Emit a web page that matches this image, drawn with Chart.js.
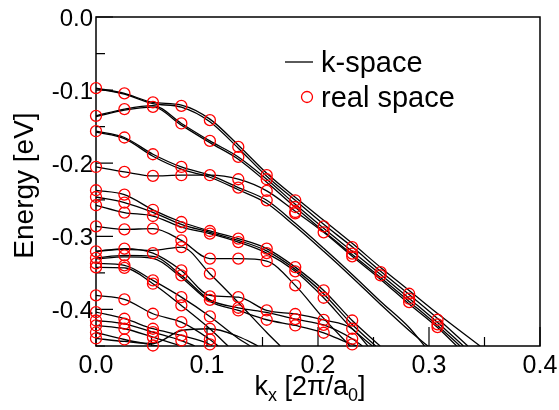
<!DOCTYPE html>
<html>
<head>
<meta charset="utf-8">
<script src="https://cdn.jsdelivr.net/npm/chart.js@4.4.0/dist/chart.umd.min.js"></script>
<style>
  html, body { margin: 0; padding: 0; background: #fff; }
</style>
</head>
<body>
<canvas id="bands" width="559" height="410"></canvas>
<script>
// k points where the real space calculation was done
const kPoints = [0, 0.0256, 0.0513, 0.0769, 0.1026, 0.1282, 0.1538, 0.1795, 0.2051, 0.2308, 0.2564, 0.2821, 0.3077];

// k-space bands: energy (eV) at kPoints, until the band leaves the plot
const kspaceBands = [
  [-0.0973, -0.1045, -0.1168, -0.1205, -0.1397, -0.1753, -0.2137, -0.2466, -0.2781, -0.3096, -0.3425, -0.3740, -0.4055],
  [-0.0979, -0.1055, -0.1185, -0.1233, -0.1432, -0.1795, -0.2178, -0.2507, -0.2836, -0.3144, -0.3479, -0.3795, -0.4123],
  [-0.1352, -0.1260, -0.1212, -0.1456, -0.1695, -0.1914, -0.2219, -0.2562, -0.2890, -0.3205, -0.3521, -0.3849, -0.4178],
  [-0.1363, -0.1274, -0.1233, -0.1479, -0.1719, -0.1945, -0.2260, -0.2603, -0.2932, -0.3247, -0.3562, -0.3890, -0.4219],
  [-0.2051, -0.2119, -0.2174, -0.2164, -0.2164, -0.2219, -0.2379, -0.2658, -0.2945, -0.3274, -0.3589, -0.3925, -0.4247],
  [-0.1562, -0.1648, -0.1877, -0.2051, -0.2164, -0.2333, -0.2507, -0.2822, -0.3164, -0.3521, -0.3890, -0.4247],
  [-0.1575, -0.1664, -0.1904, -0.2082, -0.2192, -0.2363, -0.2548, -0.2863, -0.3205, -0.3562, -0.3932, -0.4288],
  [-0.2370, -0.2429, -0.2637, -0.2804, -0.2927, -0.3032, -0.3168, -0.3421, -0.3740, -0.4151],
  [-0.2462, -0.2538, -0.2671, -0.2836, -0.2945, -0.3055, -0.3199, -0.3452, -0.3788, -0.4205],
  [-0.2575, -0.2675, -0.2722, -0.2873, -0.2963, -0.3078, -0.3229, -0.3479, -0.3840, -0.4264],
  [-0.2863, -0.2904, -0.2895, -0.3055, -0.3305, -0.3305, -0.3338, -0.3671, -0.4123],
  [-0.3205, -0.3178, -0.3192, -0.3147, -0.3511, -0.3904, -0.4315],
  [-0.3205, -0.3168, -0.3229, -0.3466, -0.3808, -0.3832, -0.4014, -0.4062, -0.4144, -0.4264],
  [-0.3295, -0.3260, -0.3274, -0.3534, -0.3870, -0.3977, -0.4041, -0.4133, -0.4212, -0.4401],
  [-0.3308, -0.3281, -0.3301, -0.3562, -0.3890, -0.4014, -0.4141, -0.4219, -0.4319, -0.4479],
  [-0.3370, -0.3397, -0.3603, -0.3832, -0.4096, -0.4397],
  [-0.3425, -0.3432, -0.3648, -0.3945, -0.4264],
  [-0.3808, -0.3863, -0.4059, -0.4174, -0.4411],
  [-0.4037, -0.4127, -0.4264, -0.4356, -0.4479],
  [-0.4151, -0.4196, -0.4311, -0.4425],
  [-0.4219, -0.4264, -0.4379],
  [-0.4315, -0.4411],
  [-0.4397, -0.4438, -0.4466, -0.4288, -0.4264, -0.4370]
];
// k where each band crosses the bottom of the plot
const bandExitK = [0.346, 0.335, 0.331, 0.328, 0.325, 0.296, 0.299, 0.256, 0.252, 0.249, 0.229, 0.166,
  0.245, 0.240, 0.236, 0.139, 0.119, 0.110, 0.1045, 0.089, 0.077, 0.055, 0.146];

// real space energies found at each of the kPoints
const realSpace = [
  [-0.0973, -0.1352, -0.1562, -0.2051, -0.2370, -0.2462, -0.2575, -0.2863, -0.3205, -0.3295, -0.3370, -0.3425, -0.3808, -0.4037, -0.4151, -0.4219, -0.4315, -0.4397],
  [-0.1045, -0.1260, -0.1648, -0.2119, -0.2429, -0.2538, -0.2675, -0.2904, -0.3168, -0.3260, -0.3397, -0.3432, -0.3863, -0.4127, -0.4196, -0.4264, -0.4411],
  [-0.1168, -0.1229, -0.1877, -0.2174, -0.2637, -0.2722, -0.2895, -0.3229, -0.3603, -0.3648, -0.4059, -0.4264, -0.4311, -0.4379, -0.4493],
  [-0.1215, -0.1456, -0.2051, -0.2164, -0.2804, -0.2873, -0.3055, -0.3147, -0.3466, -0.3534, -0.3832, -0.3945, -0.4174, -0.4356, -0.4425],
  [-0.1411, -0.1695, -0.2164, -0.2927, -0.2963, -0.3305, -0.3511, -0.3822, -0.3870, -0.4096, -0.4264, -0.4411, -0.4479],
  [-0.1777, -0.1914, -0.2219, -0.2333, -0.3032, -0.3078, -0.3305, -0.3832, -0.3977, -0.4014],
  [-0.2164, -0.2219, -0.2379, -0.2507, -0.3168, -0.3229, -0.3338, -0.4014, -0.4141],
  [-0.2507, -0.2599, -0.2667, -0.2685, -0.3421, -0.3479, -0.3671, -0.4062, -0.4133, -0.4219],
  [-0.2863, -0.2945, -0.3740, -0.3840, -0.4144, -0.4212, -0.4319],
  [-0.3147, -0.3237, -0.3274, -0.4151, -0.4264, -0.4401, -0.4479],
  [-0.3489, -0.3534],
  [-0.3785, -0.3853, -0.3900],
  [-0.4141, -0.4205, -0.4242]
];

const xTicks = [0, 0.1, 0.2, 0.3, 0.4];
const yTicks = [0, -0.1, -0.2, -0.3, -0.4];
const xMin = 0, xMax = 0.4, yMin = -0.45, yMax = 0;

const family = '"Liberation Sans", Arial, Helvetica, sans-serif';

const lineSets = kspaceBands.map((band, i) => ({
  label: 'k-space',
  data: band.map((e, n) => ({ x: kPoints[n], y: e })).concat([{ x: bandExitK[i], y: yMin }]),
  showLine: true,
  borderColor: '#000',
  borderWidth: 1.3,
  pointRadius: 0,
  cubicInterpolationMode: 'monotone',
  order: 2
}));

const circles = [];
realSpace.forEach((list, n) => list.forEach(e => circles.push({ x: kPoints[n], y: e })));

const fmt = v => (v === 0 ? '0.0' : (v < 0 ? '-' : '') + Math.abs(v).toFixed(1));

function drawParts(ctx, parts, cx, baseline) {
  let total = 0;
  parts.forEach(p => { ctx.font = p[1] + 'px ' + family; total += ctx.measureText(p[0]).width; });
  let xPos = cx - total / 2;
  parts.forEach(p => {
    ctx.font = p[1] + 'px ' + family;
    ctx.fillText(p[0], xPos, baseline + p[2]);
    xPos += ctx.measureText(p[0]).width;
  });
}

const frameAndLabels = {
  id: 'frameAndLabels',
  beforeDatasetsDraw(chart) {
    const { ctx, chartArea: a, scales: { x, y } } = chart;
    ctx.save();
    ctx.strokeStyle = '#000';
    ctx.lineWidth = 1.5;
    ctx.strokeRect(a.left, a.top, a.right - a.left, a.bottom - a.top);

    // inward ticks on bottom and left, minor every 0.05
    ctx.lineWidth = 1.2;
    ctx.beginPath();
    for (let i = 0; i <= 8; i++) {
      const px = x.getPixelForValue(i * 0.05);
      ctx.moveTo(px, a.bottom); ctx.lineTo(px, a.bottom - (i % 2 === 0 ? 19 : 9));
    }
    for (let i = 0; i <= 9; i++) {
      const py = y.getPixelForValue(-i * 0.05);
      ctx.moveTo(a.left, py); ctx.lineTo(a.left + (i % 2 === 0 ? 17 : 9), py);
    }
    ctx.stroke();

    // tick labels
    ctx.fillStyle = '#000';
    ctx.font = '25px ' + family;
    ctx.textBaseline = 'alphabetic';
    ctx.textAlign = 'center';
    xTicks.forEach(v => ctx.fillText(fmt(v), x.getPixelForValue(v), a.bottom + 27));
    ctx.font = '24px ' + family;
    ctx.textAlign = 'right';
    yTicks.forEach(v => ctx.fillText(fmt(v), a.left - 3, y.getPixelForValue(v) + 9));

    // axis titles
    ctx.textAlign = 'left';
    drawParts(ctx, [['k', 27, 0], ['x', 18, 6], [' [2\u03c0/a', 27, 0], ['0', 18, 6], [']', 27, 0]], 310, 395);
    ctx.save();
    ctx.translate(33, (a.top + a.bottom) / 2 + 4);
    ctx.rotate(-Math.PI / 2);
    ctx.textAlign = 'center';
    ctx.font = '28px ' + family;
    ctx.fillText('Energy [eV]', 0, 0);
    ctx.restore();
    ctx.restore();
  },
  afterDraw(chart) {
    const { ctx } = chart;
    ctx.save();
    ctx.strokeStyle = '#000';
    ctx.lineWidth = 1.3;
    ctx.beginPath();
    ctx.moveTo(285, 62); ctx.lineTo(313, 62);
    ctx.stroke();
    ctx.strokeStyle = '#ff0000';
    ctx.lineWidth = 1.3;
    ctx.beginPath();
    ctx.arc(307, 97, 5.5, 0, Math.PI * 2);
    ctx.stroke();
    ctx.fillStyle = '#000';
    ctx.font = '29px ' + family;
    ctx.textAlign = 'left';
    ctx.fillText('k-space', 321, 72);
    ctx.fillText('real space', 321, 107);
    ctx.restore();
  }
};

new Chart(document.getElementById('bands'), {
  type: 'scatter',
  data: {
    datasets: [{
      label: 'real space',
      data: circles,
      pointStyle: 'circle',
      pointRadius: 5.5,
      pointBorderWidth: 1.3,
      pointBorderColor: '#ff0000',
      pointBackgroundColor: 'rgba(0,0,0,0)',
      clip: false,
      order: 1
    }].concat(lineSets)
  },
  options: {
    responsive: false,
    animation: false,
    events: [],
    layout: { padding: { left: 96, top: 17, right: 19, bottom: 64 } },
    scales: {
      x: { type: 'linear', min: xMin, max: xMax, display: false },
      y: { type: 'linear', min: yMin, max: yMax, display: false }
    },
    plugins: { legend: { display: false }, tooltip: { enabled: false } }
  },
  plugins: [frameAndLabels]
});
</script>
</body>
</html>
